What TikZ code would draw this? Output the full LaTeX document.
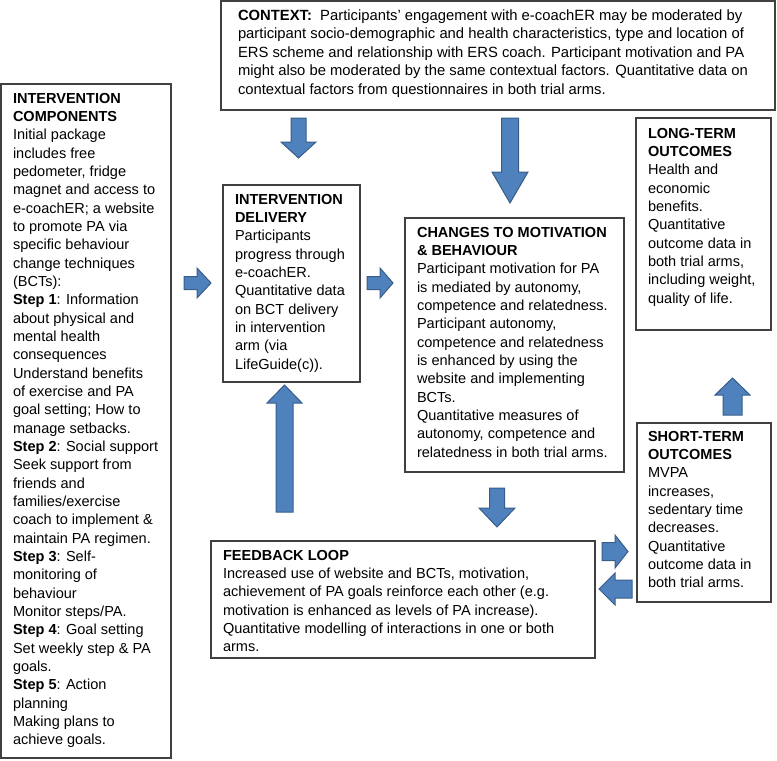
\documentclass[tikz,border=0pt]{standalone}
\usepackage{fontspec}
\setmainfont{Liberation Sans}
\definecolor{arrowfill}{HTML}{4F81BD}
\definecolor{arrowline}{HTML}{385D8A}
\definecolor{boxline}{HTML}{404040}
\tikzset{
  boxnode/.style={draw=boxline, line width=0.9pt, rectangle, inner sep=0pt, outer sep=0pt, anchor=north west},
  txt/.style={inner sep=0pt, outer sep=0pt, anchor=base west, font=\fontsize{10.9}{13.75}\selectfont, text=black},
  ctxtxt/.style={txt, font=\fontsize{11.1}{13.9}\selectfont},
  blockarrow/.style={fill=arrowfill, draw=arrowline, line width=0.75pt, line join=miter}
}
% #1 name, #2 x1, #3 y1, #4 x2, #5 y2 (pixel units, y downwards)
\newcommand\mybox[5]{\node[boxnode, minimum width={(#4-#2)*0.75pt}, minimum height={(#5-#3)*0.75pt}] (#1) at (#2,#3) {};}
% #1 tail centre, #2 angle, #3 length, #4 shaft half width, #5 head half width, #6 head length
\newcommand\barrow[6]{\draw[blockarrow, shift={(#1)}, rotate=#2] (0,-#4) -- ({#3-#6},-#4) -- ({#3-#6},-#5) -- (#3,0) -- ({#3-#6},#5) -- ({#3-#6},#4) -- (0,#4) -- cycle;}
\begin{document}
\begin{tikzpicture}[x=0.75pt, y=-0.75pt]
\useasboundingbox (0,0) rectangle (777,760);

% boxes
\mybox{comp}{1}{84}{171}{758}
\mybox{ctx}{221}{1}{775}{110}
\mybox{deliv}{223}{185}{360}{382}
\mybox{change}{405}{218}{624}{472}
\mybox{longt}{636}{118}{771}{330}
\mybox{shortt}{637}{423}{771}{602}
\mybox{fb}{211}{541}{595}{658}

% texts
\node[txt] (comptxt) at (13,103) {\begin{minipage}[t]{200pt}\raggedright
\textbf{INTERVENTION}\\
\textbf{COMPONENTS}\\
Initial package\\
includes free\\
pedometer, fridge\\
magnet and access to\\
e-coachER; a website\\
to promote PA via\\
specific behaviour\\
change techniques\\
(BCTs):\\
\textbf{Step 1}: Information\\
about physical and\\
mental health\\
consequences\\
Understand benefits\\
of exercise and PA\\
goal setting; How to\\
manage setbacks.\\
\textbf{Step 2}: Social support\\
Seek support from\\
friends and\\
families/exercise\\
coach to implement \&\\
maintain PA regimen.\\
\textbf{Step 3}: Self-\\
monitoring of\\
behaviour\\
Monitor steps/PA.\\
\textbf{Step 4}: Goal setting\\
Set weekly step \& PA\\
goals.\\
\textbf{Step 5}: Action\\
planning\\
Making plans to\\
achieve goals.\end{minipage}};

\node[ctxtxt] (ctxt) at (238,20) {\begin{minipage}[t]{500pt}\raggedright
\textbf{CONTEXT:}\ \ Participants’ engagement with e-coachER may be moderated by\\
participant socio-demographic and health characteristics, type and location of\\
ERS scheme and relationship with ERS coach. Participant motivation and PA\\
might also be moderated by the same contextual factors. Quantitative data on\\
contextual factors from questionnaires in both trial arms.\end{minipage}};

\node[txt] (delivtxt) at (235,204) {\begin{minipage}[t]{200pt}\raggedright
\textbf{INTERVENTION}\\
\textbf{DELIVERY}\\
Participants\\
progress through\\
e-coachER.\\
Quantitative data\\
on BCT delivery\\
in intervention\\
arm (via\\
LifeGuide(c)).\end{minipage}};

\node[txt] (changetxt) at (417,237) {\begin{minipage}[t]{250pt}\raggedright
\textbf{CHANGES TO MOTIVATION}\\
\textbf{\& BEHAVIOUR}\\
Participant motivation for PA\\
is mediated by autonomy,\\
competence and relatedness.\\
Participant autonomy,\\
competence and relatedness\\
is enhanced by using the\\
website and implementing\\
BCTs.\\
Quantitative measures of\\
autonomy, competence and\\
relatedness in both trial arms.\end{minipage}};

\node[txt] (longtxt) at (648,138) {\begin{minipage}[t]{150pt}\raggedright
\textbf{LONG-TERM}\\
\textbf{OUTCOMES}\\
Health and\\
economic\\
benefits.\\
Quantitative\\
outcome data in\\
both trial arms,\\
including weight,\\
quality of life.\end{minipage}};

\node[txt] (shorttxt) at (648,441) {\begin{minipage}[t]{150pt}\raggedright
\textbf{SHORT-TERM}\\
\textbf{OUTCOMES}\\
MVPA\\
increases,\\
sedentary time\\
decreases.\\
Quantitative\\
outcome data in\\
both trial arms.\end{minipage}};

\node[txt] (fbtxt) at (223,560) {\begin{minipage}[t]{350pt}\raggedright
\textbf{FEEDBACK LOOP}\\
Increased use of website and BCTs, motivation,\\
achievement of PA goals reinforce each other (e.g.\\
motivation is enhanced as levels of PA increase).\\
Quantitative modelling of interactions in one or both\\
arms.\end{minipage}};

% block arrows
\barrow{298.5,118}{-90}{40}{7.5}{17.5}{16}
\barrow{510,118}{-90}{85}{8.5}{18}{31}
\barrow{184,283}{0}{27}{6.5}{15}{14}
\barrow{367,283}{0}{26}{6.5}{15}{13}
\barrow{284.5,512}{90}{127}{8.5}{17.5}{18}
\barrow{497,488}{-90}{39}{7.5}{18}{19}
\barrow{732.5,415}{90}{37}{9.5}{17.5}{17}
\barrow{602,551.5}{0}{26}{9}{16.5}{13}
\barrow{632,589}{180}{33}{9}{16}{16}
\end{tikzpicture}
\end{document}
